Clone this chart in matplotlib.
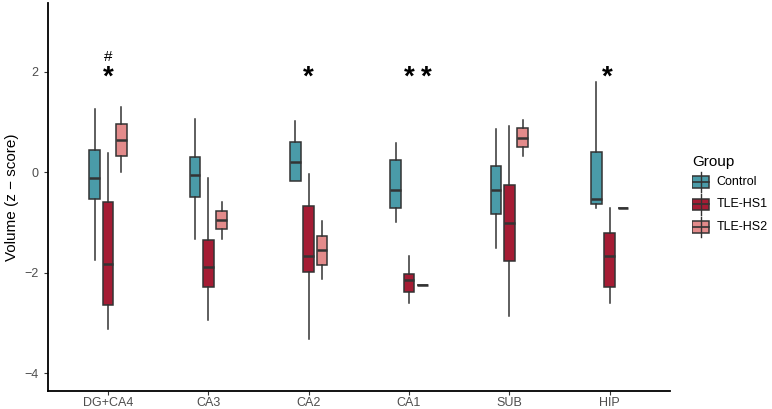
import matplotlib
matplotlib.use("Agg")
import matplotlib.pyplot as plt
from matplotlib.patches import Rectangle

plt.rcParams['font.family'] = ['Liberation Sans', 'DejaVu Sans']

# regions on the x axis
regions = ["DG+CA4", "CA3", "CA2", "CA1", "SUB", "HIP"]
groups = ["Control", "TLE-HS1", "TLE-HS2"]
colors = ["#4A9BA8", "#A51C34", "#E38B8B"]

# box stats per region: (whisker low, q1, median, q3, whisker high)
control = [(-1.75, -0.53, -0.11, 0.45, 1.26),
           (-1.32, -0.49, -0.06, 0.31, 1.06),
           (-0.17, -0.17, 0.20, 0.60, 1.03),
           (-1.00, -0.72, -0.36, 0.25, 0.59),
           (-1.51, -0.84, -0.35, 0.12, 0.86),
           (-0.72, -0.64, -0.53, 0.40, 1.80)]
tle_hs1 = [(-3.12, -2.64, -1.83, -0.59, 0.38),
           (-2.94, -2.28, -1.89, -1.34, -0.12),
           (-3.32, -1.98, -1.67, -0.68, -0.03),
           (-2.60, -2.39, -2.15, -2.03, -1.66),
           (-2.86, -1.76, -1.02, -0.25, 0.92),
           (-2.60, -2.28, -1.67, -1.20, -0.72)]
tle_hs2 = [(0.00, 0.32, 0.64, 0.96, 1.29),
           (-1.32, -1.14, -0.95, -0.78, -0.59),
           (-2.12, -1.84, -1.54, -1.26, -0.98),
           (-2.25, -2.25, -2.25, -2.25, -2.25),
           (0.33, 0.50, 0.69, 0.88, 1.04),
           (-0.72, -0.72, -0.72, -0.72, -0.72)]

# significance marks: (region index, x shift, label)
stars = [(0, 0.0, "*"), (2, 0.0, "*"), (3, 0.0, "*"), (3, 0.17, "*"), (5, -0.02, "*")]
star_y = 2.0
hash_marks = [(0, 0.0, "#")]
hash_y = 2.3

fig = plt.figure(figsize=(7.72, 4.09), dpi=100)
ax = fig.add_axes([0.0618, 0.0447, 0.806, 0.948])

offsets = [-0.133, 0.0, 0.133]
width = 0.106
edge = "#333333"
for g, (data, col) in enumerate(zip([control, tle_hs1, tle_hs2], colors)):
    stats = []
    for lo, q1, med, q3, hi in data:
        stats.append(dict(whislo=lo, q1=q1, med=med, q3=q3, whishi=hi, fliers=[]))
    pos = [i + 1 + offsets[g] for i in range(len(regions))]
    ax.bxp(stats, positions=pos, widths=width, patch_artist=True,
           showcaps=False, showfliers=False,
           boxprops=dict(facecolor=col, edgecolor=edge, linewidth=1.1),
           medianprops=dict(color=edge, linewidth=1.8),
           whiskerprops=dict(color=edge, linewidth=1.1))

# the asterisk glyph sits high in its box, nudge it down onto the value
for i, dx, s in stars:
    ax.annotate(s, (i + 1 + dx, star_y), xytext=(0, -4.5), textcoords="offset points",
                ha="center", va="center", fontsize=20, fontweight="bold")
for i, dx, s in hash_marks:
    ax.annotate(s, (i + 1 + dx, hash_y), xytext=(0, 0), textcoords="offset points",
                ha="center", va="center", fontsize=11)

ax.set_xlim(0.4, 6.6)
ax.set_ylim(-4.35, 3.37)
ax.set_xticks(range(1, len(regions) + 1))
ax.set_xticklabels(regions)
ax.set_yticks([-4, -2, 0, 2])
ax.set_yticklabels(["\u22124", "\u22122", "0", "2"])
ax.tick_params(colors="#333333", labelcolor="#4D4D4D", labelsize=9, length=3)
ax.tick_params(axis="x", pad=1.5)
ax.set_ylabel("Volume (z \u2212 score)", fontsize=11, labelpad=4)
for side in ["top", "right"]:
    ax.spines[side].set_visible(False)
for side in ["left", "bottom"]:
    ax.spines[side].set_linewidth(1.3)

# legend drawn by hand, ggplot style keys
lax = fig.add_axes([0.897, 0.40, 0.103, 0.25])
lax.set_xlim(0, 1)
lax.set_ylim(0, 1)
lax.axis("off")
lax.text(0.0, 0.82, "Group", fontsize=11, va="center", ha="left")
key_y = [0.62, 0.40, 0.18]
kw = 0.21
for yk, col, name in zip(key_y, colors, groups):
    lax.plot([kw / 2, kw / 2], [yk - 0.10, yk + 0.10], color=edge, lw=1.0)
    lax.add_patch(Rectangle((0.0, yk - 0.055), kw, 0.11, facecolor=col,
                            edgecolor=edge, lw=1.1))
    lax.plot([0.0, kw], [yk, yk], color=edge, lw=1.2)
    lax.text(0.30, yk, name, fontsize=9, va="center", ha="left")

fig.savefig("out.png", dpi=100)
